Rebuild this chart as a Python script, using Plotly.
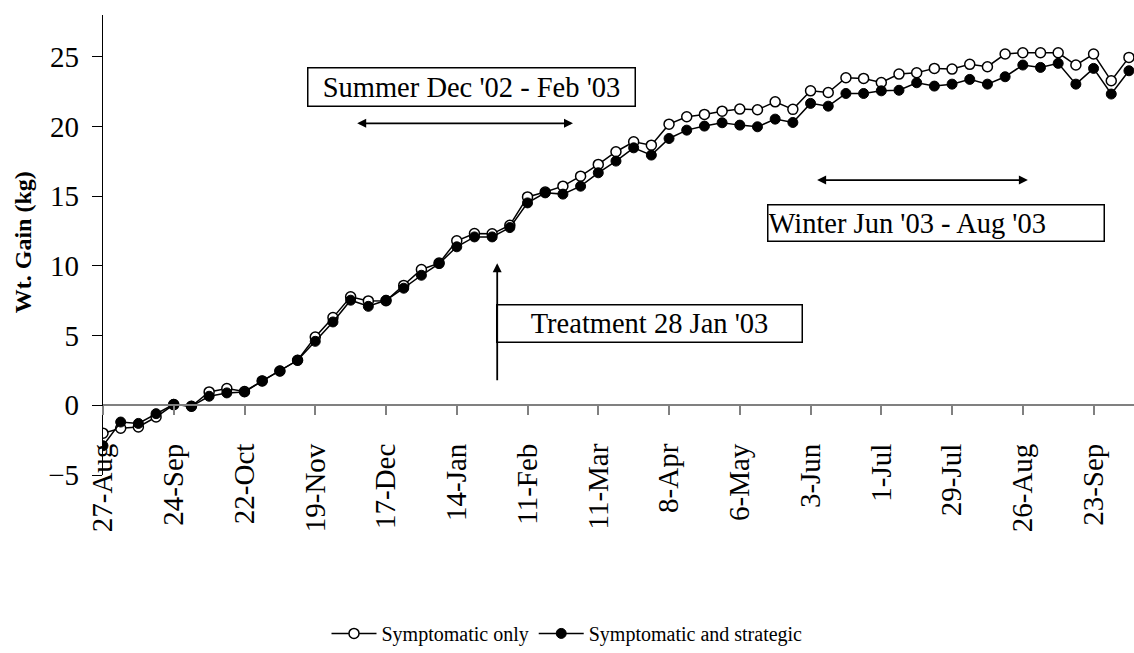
import pandas as pd
import plotly.graph_objects as go

# ---- data ----
dates = pd.date_range(start="2002-08-27", periods=59, freq="7D")

symptomatic_only = [
    -2.0, -1.65, -1.55, -0.84, 0.05, -0.07, 0.96, 1.2, 0.99, 1.75,
    2.46, 3.23, 4.9, 6.29, 7.78, 7.49, 7.5, 8.6, 9.74, 10.2,
    11.8, 12.32, 12.3, 12.92, 14.95, 15.3, 15.72, 16.44, 17.28, 18.19,
    18.9, 18.66, 20.17, 20.7, 20.87, 21.1, 21.25, 21.2, 21.77, 21.23,
    22.56, 22.44, 23.5, 23.45, 23.16, 23.76, 23.86, 24.17, 24.12, 24.46,
    24.29, 25.2, 25.29, 25.29, 25.29, 24.41, 25.2, 23.28, 24.96,
]
symptomatic_strategic = [
    -2.9, -1.2, -1.3, -0.6, 0.07, -0.07, 0.65, 0.89, 0.96, 1.75,
    2.46, 3.23, 4.59, 5.98, 7.54, 7.1, 7.54, 8.4, 9.33, 10.17,
    11.37, 12.08, 12.08, 12.75, 14.52, 15.24, 15.15, 15.72, 16.68, 17.52,
    18.47, 17.95, 19.14, 19.74, 20.03, 20.27, 20.1, 19.98, 20.53, 20.29,
    21.66, 21.46, 22.37, 22.37, 22.56, 22.6, 23.14, 22.9, 23.04, 23.38,
    23.04, 23.57, 24.41, 24.24, 24.53, 23.04, 24.17, 22.33, 24.0,
]

tick_dates = ["2002-08-27", "2002-09-24", "2002-10-22", "2002-11-19", "2002-12-17",
              "2003-01-14", "2003-02-11", "2003-03-11", "2003-04-08", "2003-05-06",
              "2003-06-03", "2003-07-01", "2003-07-29", "2003-08-26", "2003-09-23"]
tick_text = ["27-Aug", "24-Sep", "22-Oct", "19-Nov", "17-Dec", "14-Jan", "11-Feb",
             "11-Mar", "8-Apr", "6-May", "3-Jun", "1-Jul", "29-Jul", "26-Aug", "23-Sep"]
y_ticks = [-5, 0, 5, 10, 15, 20, 25]

FONT = "Liberation Serif"

fig = go.Figure()
fig.add_trace(go.Scatter(
    x=dates, y=symptomatic_only, mode="lines+markers", name="Symptomatic only",
    line=dict(color="black", width=1.5),
    marker=dict(symbol="circle", size=10, color="white", line=dict(color="black", width=1.5)),
))
fig.add_trace(go.Scatter(
    x=dates, y=symptomatic_strategic, mode="lines+markers", name="Symptomatic and strategic",
    line=dict(color="black", width=1.5),
    marker=dict(symbol="circle", size=10, color="black", line=dict(color="black", width=1)),
))

y_min, y_max = -5, 28

fig.update_layout(
    width=1134, height=653,
    margin=dict(l=103, r=0, t=15, b=178),
    paper_bgcolor="white", plot_bgcolor="white",
    font=dict(family=FONT, color="black"),
    showlegend=True,
    legend=dict(orientation="h", xref="container", yref="container",
                x=0.5, xanchor="center", y=0.03, yanchor="middle",
                font=dict(family=FONT, size=20, color="black"),
                itemwidth=45, tracegroupgap=0),
    xaxis=dict(
        type="date", range=["2002-08-27", "2003-10-09"],
        anchor="free", position=(0 - y_min) / (y_max - y_min),
        showline=True, linecolor="#808080", linewidth=1.5,
        ticks="outside", ticklen=9, tickcolor="#808080", tickwidth=1.5,
        tickvals=tick_dates, ticktext=tick_text, tickangle=-90,
        tickfont=dict(family=FONT, size=29, color="black"),
        ticklabelstandoff=17,
        showgrid=False, zeroline=False,
    ),
    yaxis=dict(
        range=[y_min, y_max], tickvals=y_ticks,
        showline=True, linecolor="black", linewidth=1.2,
        ticks="outside", ticklen=10, tickcolor="black", tickwidth=1.2,
        tickfont=dict(family=FONT, size=29, color="black"),
        ticklabelstandoff=7,
        showgrid=False, zeroline=False,
    ),
)

# y-axis title
fig.add_annotation(text="<b>Wt. Gain (kg)</b>", textangle=-90, xref="paper", yref="paper",
                   x=-0.078, y=0.505, xanchor="center", yanchor="middle", showarrow=False,
                   font=dict(family=FONT, size=24, color="black"))

box_font = dict(family=FONT, size=28.5, color="black")
# text boxes
fig.add_annotation(text="Summer Dec '02 - Feb '03", xref="paper", yref="paper",
                   x=0.357, y=0.8435, xanchor="center", yanchor="middle", showarrow=False,
                   width=326, height=37, align="center", bordercolor="black", borderwidth=1.5,
                   borderpad=0, bgcolor="white", font=box_font)
fig.add_annotation(text="Treatment 28 Jan '03", xref="paper", yref="paper",
                   x=0.530, y=0.3293, xanchor="center", yanchor="middle", showarrow=False,
                   width=304, height=36, align="center", bordercolor="black", borderwidth=1.5,
                   borderpad=0, bgcolor="white", font=box_font)
fig.add_annotation(text="Winter Jun '03 - Aug '03", xref="paper", yref="paper",
                   x=0.808, y=0.5478, xanchor="center", yanchor="middle", showarrow=False,
                   width=335, height=35, align="left", bordercolor="black", borderwidth=1.5,
                   borderpad=0, bgcolor="white", font=box_font)

# arrows
arrow_common = dict(text="", showarrow=True, xref="x", yref="y", axref="x", ayref="y",
                    arrowhead=2, arrowsize=1, arrowwidth=1.8, arrowcolor="black")
fig.add_annotation(x="2003-03-01", y=20.23, ax="2002-12-05", ay=20.23,
                   arrowside="end+start", **arrow_common)
fig.add_annotation(x="2003-08-28", y=16.16, ax="2003-06-05", ay=16.16,
                   arrowside="end+start", **arrow_common)
fig.add_annotation(x="2003-01-30", y=10.19, ax="2003-01-30", ay=1.69,
                   arrowside="end", **arrow_common)

fig.write_html("out.html",
               config={"displayModeBar": False},
               post_script="document.body.style.margin='0px';document.body.style.overflow='hidden';")
